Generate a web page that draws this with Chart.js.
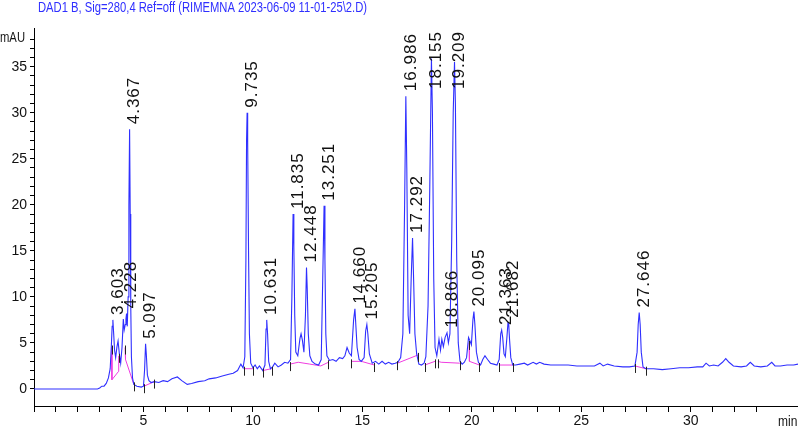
<!DOCTYPE html>
<html>
<head>
<meta charset="utf-8">
<script src="https://cdn.jsdelivr.net/npm/chart.js@4.4.0/dist/chart.umd.min.js"></script>
<style>
  html, body { margin: 0; padding: 0; background: #fff; }
  #wrap { width: 798px; height: 433px; }
</style>
</head>
<body>
<div id="wrap"><canvas id="chrom" width="798" height="433"></canvas></div>
<script>
// signal trace (min / mAU)
var traceTime = [0, 2.9, 3.0, 3.1, 3.2, 3.3, 3.4, 3.48, 3.53, 3.57, 3.603, 3.64, 3.68, 3.73, 3.79, 3.84, 3.9, 3.96,
    4.02, 4.08, 4.12, 4.17, 4.2, 4.228, 4.26, 4.3, 4.335, 4.367, 4.395, 4.42, 4.45, 4.5, 4.56, 4.7, 4.9,
    5.0, 5.05, 5.097, 5.13, 5.18, 5.25, 5.35, 5.5, 5.7, 5.9, 6.1, 6.3, 6.55, 6.75, 7.0, 7.2, 7.5, 7.8,
    8.0, 8.3, 8.6, 8.9, 9.1, 9.3, 9.45, 9.55, 9.63, 9.68, 9.71, 9.735, 9.76, 9.8, 9.84, 9.9,
    10.0, 10.1, 10.2, 10.3, 10.45, 10.55, 10.6, 10.631, 10.67, 10.72, 10.8, 10.9,
    11.0, 11.15, 11.3, 11.45, 11.6, 11.72, 11.78, 11.835, 11.87, 11.91, 11.96,
    12.05, 12.15, 12.2, 12.26, 12.33, 12.4, 12.448, 12.48, 12.53, 12.6, 12.7, 12.85,
    13.0, 13.12, 13.19, 13.251, 13.29, 13.33, 13.38, 13.5, 13.65, 13.8, 13.95,
    14.1, 14.2, 14.3, 14.4, 14.5, 14.6, 14.66, 14.7, 14.76, 14.85, 14.95,
    15.08, 15.15, 15.205, 15.25, 15.32, 15.45, 15.6, 15.75, 15.9,
    16.05, 16.2, 16.35, 16.5, 16.62, 16.75, 16.85, 16.93, 16.986,
    17.03, 17.09, 17.16, 17.23, 17.292, 17.34, 17.4, 17.48, 17.58, 17.7, 17.82, 17.9,
    18.0, 18.08, 18.155, 18.2, 18.26, 18.32, 18.4, 18.5, 18.57, 18.63, 18.7, 18.78, 18.866, 18.93,
    19.0, 19.08, 19.15, 19.209, 19.25, 19.31, 19.38, 19.46, 19.56, 19.66, 19.76, 19.85, 19.92, 19.98,
    20.05, 20.095, 20.14, 20.21, 20.3, 20.4, 20.5, 20.6, 20.72, 20.85,
    21.0, 21.15, 21.25, 21.32, 21.363, 21.41, 21.47, 21.53, 21.6, 21.652, 21.682, 21.72, 21.78, 21.87,
    22.0, 22.2, 22.4, 22.55, 22.8, 22.95, 23.1, 23.3, 23.6, 24.0, 24.4, 24.8, 25.2, 25.6, 25.85,
    26.0, 26.2, 26.5, 26.9, 27.2, 27.45, 27.55, 27.6, 27.646, 27.69, 27.74, 27.82, 27.95,
    28.3, 28.7, 29.1, 29.5, 29.9, 30.3, 30.55, 30.7, 30.85, 31.05, 31.25, 31.45, 31.6, 31.75, 31.95,
    32.3, 32.55, 32.72, 32.9, 33.2, 33.5, 33.7, 33.85, 34.1, 34.4, 34.7, 34.9];
var traceMAU = [0, 0, 0.1, 0.3, 0.3, 0.6, 1.2, 2.2, 4.5, 6.8, 7.5, 6.0, 4.2, 3.4, 4.6, 5.2, 3.8, 2.8,
    4.5, 7.6, 6.4, 7.0, 7.6, 8.2, 6.8, 10.0, 20.0, 28.2, 19.0, 9.0, 3.5, 1.2, 0.5, 0.3, 0.2,
    0.3, 2.0, 4.9, 3.8, 1.5, 0.9, 0.7, 0.8, 0.7, 0.9, 0.8, 1.1, 1.3, 0.9, 0.5, 0.6, 0.8, 0.9,
    1.1, 1.2, 1.4, 1.6, 1.7, 2.0, 2.7, 2.3, 3.5, 14.0, 27.0, 30.0, 27.0, 15.0, 6.0, 2.8,
    2.3, 2.6, 2.2, 2.5, 2.0, 2.6, 6.5, 7.5, 6.0, 3.0, 2.2, 2.4,
    2.8, 2.4, 2.6, 2.9, 2.8, 3.2, 10.0, 19.0, 15.5, 8.0, 4.0,
    3.6, 5.5, 6.0, 5.3, 4.0, 8.0, 13.2, 11.0, 6.0, 3.6, 3.0, 2.7,
    2.6, 3.2, 12.0, 19.9, 14.0, 6.0, 3.6, 3.1, 3.2, 3.0, 3.4,
    3.3, 3.6, 4.5, 3.9, 3.6, 7.5, 8.7, 7.0, 4.5, 3.2, 3.0,
    3.4, 6.3, 7.0, 6.0, 3.8, 2.8, 3.0, 2.7, 3.0,
    2.7, 2.9, 2.7, 2.8, 2.9, 3.4, 6.0, 20.0, 31.8,
    24.0, 8.0, 6.0, 12.0, 16.4, 12.0, 6.0, 3.8, 2.7, 2.6, 2.8, 3.5,
    9.0, 22.0, 35.9, 30.0, 12.0, 4.5, 3.6, 5.4, 4.2, 5.4, 4.6, 5.6, 6.1, 5.0,
    6.0, 16.0, 30.0, 35.5, 31.0, 14.0, 5.0, 3.0, 2.7, 2.9, 3.4, 5.6, 5.2, 4.8,
    7.5, 8.4, 7.0, 4.0, 2.9, 2.6, 3.2, 3.6, 3.2, 2.8,
    2.7, 2.6, 3.2, 6.0, 6.4, 5.6, 3.8, 3.5, 5.5, 7.2, 7.2, 5.5, 3.4, 2.6,
    2.6, 2.7, 2.8, 2.6, 2.9, 2.7, 2.9, 2.7, 2.6, 2.6, 2.6, 2.5, 2.5, 2.5, 2.8,
    2.5, 2.7, 2.5, 2.4, 2.4, 2.5, 4.0, 7.0, 8.3, 7.0, 4.0, 2.4, 2.2,
    2.2, 2.1, 2.2, 2.3, 2.3, 2.4, 2.4, 2.8, 2.5, 2.6, 2.5, 2.9, 3.3, 2.9, 2.5,
    2.4, 2.5, 2.9, 2.5, 2.4, 2.5, 2.9, 2.5, 2.5, 2.6, 2.6, 2.7];

// integrated peaks: retention time labels and apex heights
var peakTimes = ['3.603', '4.228', '4.367', '5.097', '9.735', '10.631', '11.835', '12.448', '13.251', '14.660',
    '15.205', '16.986', '17.292', '18.155', '18.866', '19.209', '20.095', '21.363', '21.682', '27.646'];
var peakHeights = [7.5, 8.2, 28.2, 4.9, 30.0, 7.5, 19.0, 13.2, 19.9, 8.7,
    7.0, 31.8, 16.4, 35.9, 6.1, 35.5, 8.4, 6.4, 7.2, 8.3];

// integration baselines (pink), one list of [min, mAU] per drawn piece
var baseSegs = [
    [[3.55, 4.5], [3.56, 1.0], [3.86, 1.9], [3.87, 3.6]],
    [[4.16, 4.5], [4.18, 3.2], [4.56, 0.5]],
    [[5.02, 0.3], [5.5, 0.8]],
    [[9.6, 2.2], [10.0, 2.2]],
    [[10.45, 2.0], [10.85, 2.2]],
    [[11.7, 2.7], [12.07, 2.9], [12.6, 2.7], [13.1, 2.5], [13.45, 2.9]],
    [[14.5, 3.0], [14.95, 3.0], [15.55, 2.6]],
    [[16.6, 2.8], [17.55, 3.7]],
    [[17.85, 2.6], [18.32, 3.0]],
    [[18.45, 3.0], [18.6, 2.9], [19.45, 2.8]],
    [[19.88, 5.0], [19.89, 3.0], [20.35, 2.6]],
    [[21.25, 2.6], [21.88, 2.6]],
    [[27.45, 2.5], [27.95, 2.2]]
];

var titleText = 'DAD1 B, Sig=280,4 Ref=off (RIMEMNA 2023-06-09 11-01-25\\2.D)';
var xRange = [0, 34.9];
var yRange = [-1.85, 39.2];

var FONT = '"Liberation Sans", Arial, sans-serif';
var BLUE = '#2f2fff';
var PINK = '#f03ce0';

var traceData = traceTime.map(function(t, i) { return { x: t, y: traceMAU[i] }; });
var baseData = [];
baseSegs.forEach(function(seg) {
    seg.forEach(function(p) { baseData.push({ x: p[0], y: p[1] }); });
    baseData.push({ x: seg[seg.length - 1][0] + 0.001, y: null });
});

function intsOnly(scale) {
    scale.ticks = scale.ticks.filter(function(t) { return Number.isInteger(Math.round(t.value * 1000) / 1000); });
}

// squeezed text, the original uses a narrow face
function narrowText(ctx, txt, x, y, sx) {
    ctx.save();
    ctx.translate(x, y);
    ctx.scale(sx, 1);
    ctx.fillText(txt, 0, 0);
    ctx.restore();
}

var annotate = {
    id: 'annotate',
    afterDatasetsDraw: function(chart) {
        var ctx = chart.ctx, xs = chart.scales.x, ys = chart.scales.y, area = chart.chartArea;
        ctx.save();
        // small black cut marks at the ends of the baselines
        ctx.strokeStyle = '#222';
        ctx.lineWidth = 1;
        baseSegs.forEach(function(seg) {
            [seg[0], seg[seg.length - 1]].forEach(function(p) {
                var px = Math.round(xs.getPixelForValue(p[0])) + 0.5;
                var py = ys.getPixelForValue(p[1]);
                ctx.beginPath();
                ctx.moveTo(px, py - 2);
                ctx.lineTo(px, py + 7);
                ctx.stroke();
            });
        });
        // rotated retention time labels
        ctx.fillStyle = '#111';
        ctx.font = '17px ' + FONT;
        ctx.letterSpacing = '1px';
        ctx.textAlign = 'left';
        ctx.textBaseline = 'middle';
        peakTimes.forEach(function(lbl, i) {
            var px = xs.getPixelForValue(parseFloat(lbl));
            var py = ys.getPixelForValue(peakHeights[i]);
            var w = ctx.measureText(lbl).width;
            var start = py - 5;
            if (start - w < area.top + 3) start = area.top + 3 + w;
            ctx.save();
            ctx.translate(px + 5, start);
            ctx.rotate(-Math.PI / 2);
            ctx.fillText(lbl, 0, 0);
            ctx.restore();
        });
        ctx.restore();
    },
    afterDraw: function(chart) {
        var ctx = chart.ctx;
        ctx.save();
        ctx.letterSpacing = '0px';
        ctx.textBaseline = 'middle';
        ctx.textAlign = 'left';
        ctx.fillStyle = BLUE;
        ctx.font = '14px ' + FONT;
        var tw = ctx.measureText(titleText).width;
        narrowText(ctx, titleText, 38, 8, 329 / tw);
        ctx.fillStyle = '#111';
        ctx.font = '15px ' + FONT;
        narrowText(ctx, 'mAU', 0, 38, 0.75);
        narrowText(ctx, 'min', 778, 422, 0.8);
        ctx.restore();
    }
};

var chart = new Chart(document.getElementById('chrom'), {
    type: 'line',
    data: {
        datasets: [
            {
                label: 'trace',
                data: traceData,
                borderColor: BLUE,
                borderWidth: 1.1,
                pointRadius: 0,
                tension: 0
            },
            {
                label: 'baseline',
                data: baseData,
                borderColor: PINK,
                borderWidth: 1,
                pointRadius: 0,
                tension: 0,
                spanGaps: false
            }
        ]
    },
    options: {
        animation: false,
        responsive: false,
        devicePixelRatio: 1,
        layout: { padding: { top: 28, left: 0, right: 0, bottom: 0 } },
        plugins: {
            legend: { display: false },
            tooltip: { enabled: false }
        },
        scales: {
            x: {
                type: 'linear',
                min: xRange[0],
                max: xRange[1],
                afterBuildTicks: intsOnly,
                afterFit: function(s) { s.height = 27; },
                ticks: {
                    stepSize: 1,
                    autoSkip: false,
                    maxRotation: 0,
                    padding: 1,
                    color: '#111',
                    font: { family: FONT, size: 14 },
                    callback: function(v) { return (v % 5 === 0 && v > 0) ? v : ''; }
                },
                grid: { drawOnChartArea: false, drawTicks: true, tickLength: 6, color: '#000' },
                border: { color: '#000', width: 1 }
            },
            y: {
                type: 'linear',
                min: yRange[0],
                max: yRange[1],
                afterBuildTicks: intsOnly,
                afterFit: function(s) { s.width = 34; },
                ticks: {
                    stepSize: 1,
                    autoSkip: false,
                    padding: 3,
                    color: '#111',
                    font: { family: FONT, size: 14 },
                    callback: function(v) { return (v % 5 === 0 && v >= 0) ? v : ''; }
                },
                grid: { drawOnChartArea: false, drawTicks: true, tickLength: 4, color: '#000' },
                border: { color: '#000', width: 1 }
            }
        }
    },
    plugins: [annotate]
});
</script>
</body>
</html>
